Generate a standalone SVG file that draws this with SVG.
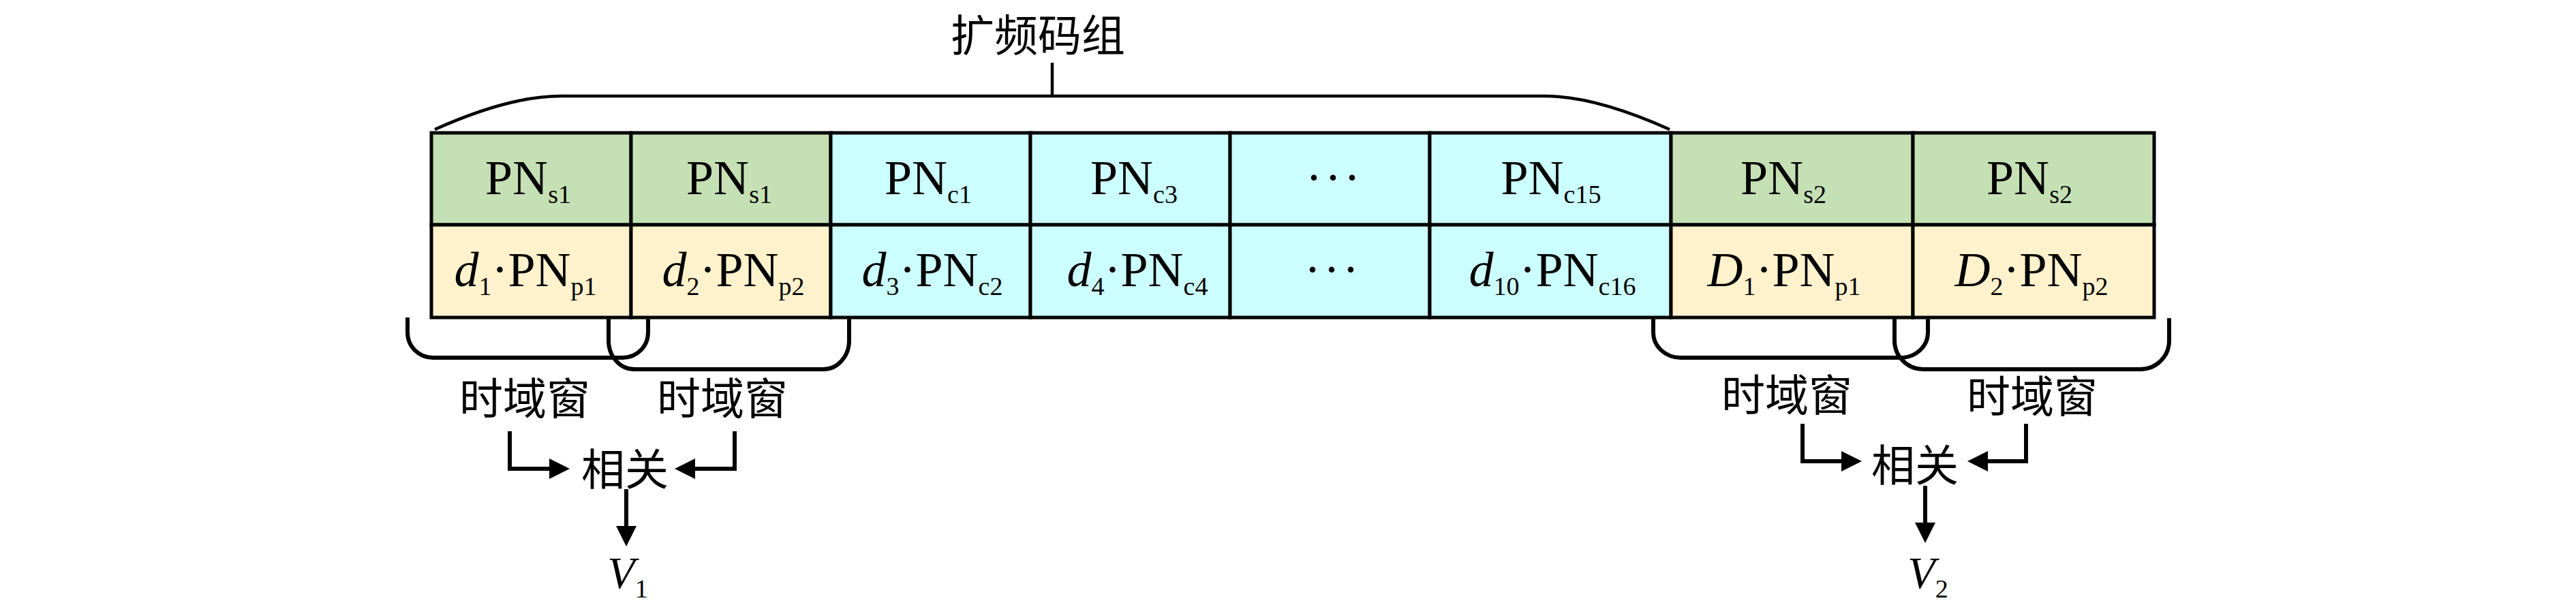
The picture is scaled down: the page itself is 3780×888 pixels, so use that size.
<svg xmlns="http://www.w3.org/2000/svg" width="3780" height="888" viewBox="0 0 3780 888">
<style>
.g{fill:#C5E0B4}.y{fill:#FFF2CC}.c{fill:#CCFFFF}
.cell{stroke:#000;stroke-width:5}
.m{font-family:"Liberation Serif","DejaVu Serif",serif;font-size:72px;fill:#000;text-anchor:middle}
.s{font-size:38px}
.i{font-style:italic}
.cjk{font-family:"Noto Sans CJK SC","Noto Sans",sans-serif;font-size:64px;fill:#000;text-anchor:middle}
.win{fill:none;stroke:#000;stroke-width:6;stroke-linejoin:round}
.brace{fill:none;stroke:#000;stroke-width:4.5}
.conn{fill:none;stroke:#000;stroke-width:6;stroke-linejoin:miter}
</style>
<defs>
<marker id="ah" markerUnits="userSpaceOnUse" markerWidth="30" markerHeight="30" refX="20" refY="15" orient="auto" viewBox="0 0 30 30">
<path d="M0,0 L30,15 L0,30 Z" fill="#000"/>
</marker>
</defs>
<rect width="3780" height="888" fill="#fff"/>

<g id="title">
<text class="cjk" x="1523" y="75">扩频码组</text>
<path class="brace" d="M638,190 Q747,141 823,141 H2267 Q2341,141 2450,190"/>
<path class="brace" d="M1544,92 V141"/>
</g>

<g id="col1">
<rect class="cell g" x="633" y="195" width="293" height="135"/>
<rect class="cell y" x="633" y="330" width="293" height="136"/>
<text class="m" x="775" y="285">PN<tspan class="s" dy="13">s1</tspan></text>
<text class="m" x="771" y="420"><tspan class="i">d</tspan><tspan class="s" dy="13">1</tspan><tspan dy="-13">·PN</tspan><tspan class="s" dy="13">p1</tspan></text>
</g>
<g id="col2">
<rect class="cell g" x="926" y="195" width="293" height="135"/>
<rect class="cell y" x="926" y="330" width="293" height="136"/>
<text class="m" x="1070" y="285">PN<tspan class="s" dy="13">s1</tspan></text>
<text class="m" x="1076" y="420"><tspan class="i">d</tspan><tspan class="s" dy="13">2</tspan><tspan dy="-13">·PN</tspan><tspan class="s" dy="13">p2</tspan></text>
</g>
<g id="col3">
<rect class="cell c" x="1219" y="195" width="293" height="135"/>
<rect class="cell c" x="1219" y="330" width="293" height="136"/>
<text class="m" x="1362" y="285">PN<tspan class="s" dy="13">c1</tspan></text>
<text class="m" x="1368" y="420"><tspan class="i">d</tspan><tspan class="s" dy="13">3</tspan><tspan dy="-13">·PN</tspan><tspan class="s" dy="13">c2</tspan></text>
</g>
<g id="col4">
<rect class="cell c" x="1512" y="195" width="293" height="135"/>
<rect class="cell c" x="1512" y="330" width="293" height="136"/>
<text class="m" x="1664" y="285">PN<tspan class="s" dy="13">c3</tspan></text>
<text class="m" x="1669" y="420"><tspan class="i">d</tspan><tspan class="s" dy="13">4</tspan><tspan dy="-13">·PN</tspan><tspan class="s" dy="13">c4</tspan></text>
</g>
<g id="col5">
<rect class="cell c" x="1805" y="195" width="293" height="135"/>
<rect class="cell c" x="1805" y="330" width="293" height="136"/>
<text class="m" x="1958" y="285" letter-spacing="4">···</text>
<text class="m" x="1956" y="420" letter-spacing="4">···</text>
</g>
<g id="col6">
<rect class="cell c" x="2098" y="195" width="354" height="135"/>
<rect class="cell c" x="2098" y="330" width="354" height="136"/>
<text class="m" x="2276" y="285">PN<tspan class="s" dy="13">c15</tspan></text>
<text class="m" x="2278" y="420"><tspan class="i">d</tspan><tspan class="s" dy="13">10</tspan><tspan dy="-13">·PN</tspan><tspan class="s" dy="13">c16</tspan></text>
</g>
<g id="col7">
<rect class="cell g" x="2452" y="195" width="355" height="135"/>
<rect class="cell y" x="2452" y="330" width="355" height="136"/>
<text class="m" x="2617" y="285">PN<tspan class="s" dy="13">s2</tspan></text>
<text class="m" x="2618" y="420"><tspan class="i">D</tspan><tspan class="s" dy="13">1</tspan><tspan dy="-13">·PN</tspan><tspan class="s" dy="13">p1</tspan></text>
</g>
<g id="col8">
<rect class="cell g" x="2807" y="195" width="354" height="135"/>
<rect class="cell y" x="2807" y="330" width="354" height="136"/>
<text class="m" x="2978" y="285">PN<tspan class="s" dy="13">s2</tspan></text>
<text class="m" x="2981" y="420"><tspan class="i">D</tspan><tspan class="s" dy="13">2</tspan><tspan dy="-13">·PN</tspan><tspan class="s" dy="13">p2</tspan></text>
</g>

<g id="window1">
<path class="win" d="M598,466 V488 A37,37 0 0 0 635,525 H914 A37,37 0 0 0 951,488 V466"/>
<text class="cjk" x="770" y="608">时域窗</text>
</g>
<g id="window2">
<path class="win" d="M893,467 V500 A38,42 0 0 0 931,542 H1208 A38,42 0 0 0 1246,500 V467"/>
<text class="cjk" x="1060" y="608">时域窗</text>
</g>
<g id="window3">
<path class="win" d="M2426,467 V488 A40,37 0 0 0 2466,525 H2789 A40,37 0 0 0 2829,488 V467"/>
<text class="cjk" x="2622" y="603">时域窗</text>
</g>
<g id="window4">
<path class="win" d="M2780,467 V500 A42,42 0 0 0 2822,542 H3141 A42,42 0 0 0 3183,500 V467"/>
<text class="cjk" x="2982" y="605">时域窗</text>
</g>

<g id="corr1">
<text class="cjk" x="917" y="712">相关</text>
</g>
<g id="corr2">
<text class="cjk" x="2810" y="706">相关</text>
</g>
<g id="out1">
<text class="m i" x="921" y="863" style="font-size:66px">V<tspan class="s" dy="14" font-style="normal">1</tspan></text>
</g>
<g id="out2">
<text class="m i" x="2829" y="863" style="font-size:66px">V<tspan class="s" dy="14" font-style="normal">2</tspan></text>
</g>

<g id="connectors">
<path class="conn" d="M748,633 V688 H826" marker-end="url(#ah)"/>
<path class="conn" d="M1078,633 V688 H1000" marker-end="url(#ah)"/>
<path class="conn" d="M919,718 V792" marker-end="url(#ah)"/>
<path class="conn" d="M2645,622 V677 H2722" marker-end="url(#ah)"/>
<path class="conn" d="M2973,622 V677 H2897" marker-end="url(#ah)"/>
<path class="conn" d="M2825,713 V787" marker-end="url(#ah)"/>
</g>
</svg>
